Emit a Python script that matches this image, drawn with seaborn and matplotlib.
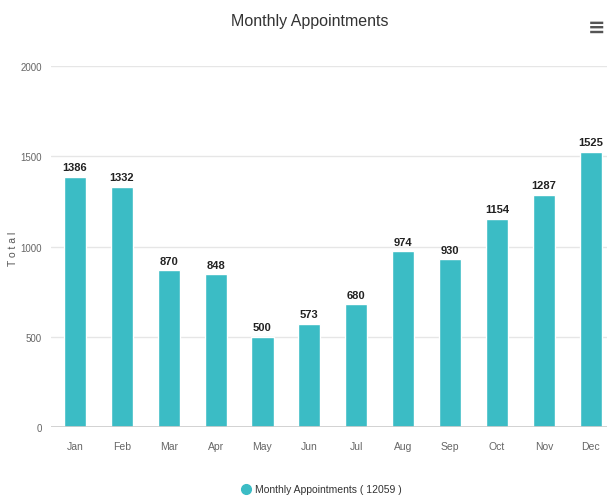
import matplotlib
matplotlib.use("Agg")
import matplotlib.pyplot as plt
import pandas as pd
import seaborn as sns

months = ["Jan", "Feb", "Mar", "Apr", "May", "Jun",
          "Jul", "Aug", "Sep", "Oct", "Nov", "Dec"]
appointments = [1386, 1332, 870, 848, 500, 573, 680, 974, 930, 1154, 1287, 1525]
y_ticks = [0, 500, 1000, 1500, 2000]

bar_color = "#3BBCC5"
font = ["Liberation Sans Narrow", "Liberation Sans", "DejaVu Sans"]

df = pd.DataFrame({"Month": months, "Total": appointments})

sns.set_style("white")
plt.rcParams["font.family"] = font

fig = plt.figure(figsize=(6.07, 5.02), dpi=100)
ax = fig.add_axes([0.0848, 0.147, 0.927, 0.7195])

sns.barplot(data=df, x="Month", y="Total", color=bar_color, width=0.47,
            saturation=1, ax=ax, zorder=2)

ax.set_ylim(0, 2000)
ax.set_yticks(y_ticks)
ax.set_yticklabels([str(t) for t in y_ticks], fontsize=7, color="#666666")
ax.grid(axis="y", color="#e6e6e6", linewidth=1, zorder=0)
ax.axhline(0, color="#cccccc", linewidth=1.2, zorder=3)
ax.tick_params(axis="both", length=0)
ax.tick_params(axis="x", labelsize=7.5, labelcolor="#666666", pad=10)
ax.tick_params(axis="y", pad=7)
for s in ax.spines.values():
    s.set_visible(False)

for i, v in enumerate(appointments):
    ax.text(i, v + 25, str(v), ha="center", va="bottom", fontsize=8,
            fontweight="bold", color="#222222")

ax.set_xlabel("")
ax.set_ylabel("")
fig.text(0.022, 0.504, "T o t a l", rotation=90, ha="center", va="center",
         fontsize=7.5, color="#555555")

fig.text(0.51, 0.958, "Monthly Appointments", ha="center", va="center",
         fontsize=11.5, color="#333333")
fig.text(0.998, 0.944, "\u2261", ha="right", va="center", fontsize=15,
         color="#555555", family="DejaVu Sans", fontweight="bold")

# legend
fig.lines.append(plt.Line2D([0.405], [0.024], marker="o", markersize=7,
                            color=bar_color, transform=fig.transFigure))
fig.text(0.42, 0.024, "Monthly Appointments ( 12059 )", ha="left",
         va="center", fontsize=7.5, color="#333333")

fig.savefig("out.png", dpi=100)
